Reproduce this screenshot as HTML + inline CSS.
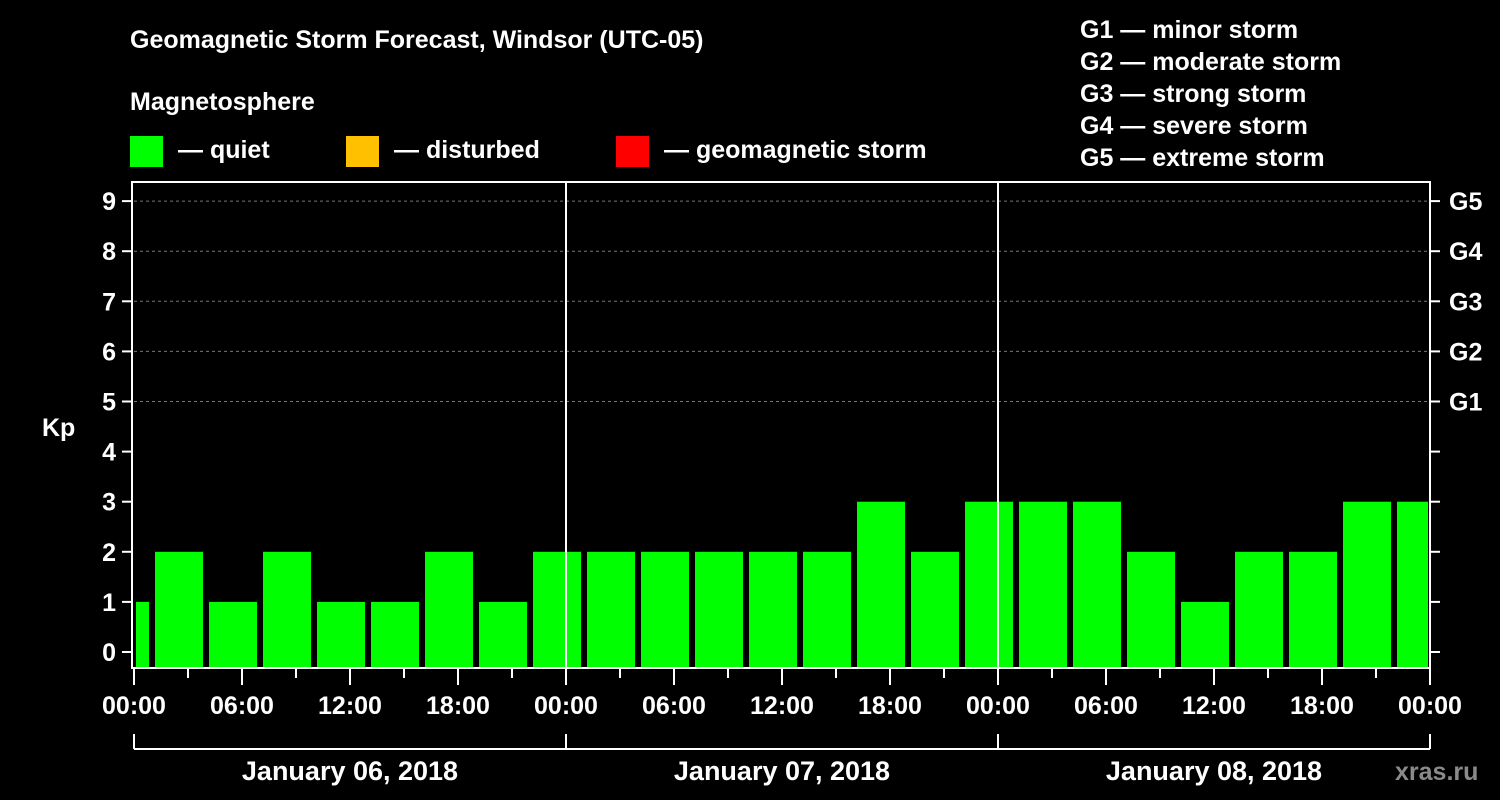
<!DOCTYPE html>
<html><head><meta charset="utf-8"><style>
html,body{margin:0;padding:0;background:#000;width:1500px;height:800px;overflow:hidden}
svg text{font-family:"Liberation Sans",Arial,sans-serif;font-weight:bold;fill:#fff}
</style></head><body>
<svg id="chart" width="1500" height="800" xmlns="http://www.w3.org/2000/svg">
<text x="130" y="48" font-size="25">Geomagnetic Storm Forecast, Windsor (UTC-05)</text>
<text x="130" y="110" font-size="25">Magnetosphere</text>
<rect x="130" y="136" width="33" height="31" fill="#00ff00"/>
<text x="178" y="158" font-size="25">— quiet</text>
<rect x="346" y="136" width="33" height="31" fill="#ffc000"/>
<text x="394" y="158" font-size="25">— disturbed</text>
<rect x="616" y="136" width="33" height="31" fill="#ff0000"/>
<text x="664" y="158" font-size="25">— geomagnetic storm</text>
<g font-size="25">
<text x="1080" y="38">G1 — minor storm</text>
<text x="1080" y="70">G2 — moderate storm</text>
<text x="1080" y="102">G3 — strong storm</text>
<text x="1080" y="134">G4 — severe storm</text>
<text x="1080" y="166">G5 — extreme storm</text>
</g>
<g id="plot"></g>
<text x="1395" y="780" font-size="25" fill="#888" style="fill:#8a8a8a">xras.ru</text>
</svg>
<script>
const kpValues = [1,2,1,2,1,1,2,1,2, 2,2,2,2,2,3,2,3, 3,3,2,1,2,2,3,3];
const barStartHours = [-2,1,4,7,10,13,16,19,22,25,28,31,34,37,40,43,46,49,52,55,58,61,64,67,70];
const kpTicks = [0,1,2,3,4,5,6,7,8,9];
const gLabels = ["G1","G2","G3","G4","G5"];
const gLevels = [5,6,7,8,9];
const hourTickLabels = ["00:00","06:00","12:00","18:00","00:00","06:00","12:00","18:00","00:00","06:00","12:00","18:00","00:00"];
const dayLabels = ["January 06, 2018","January 07, 2018","January 08, 2018"];

const NS="http://www.w3.org/2000/svg";
const g=document.getElementById('plot');
const X0=134, X1=1430, TOTAL=72, YTOP=182, YBOT=668;
const x=h=>X0+(h/TOTAL)*(X1-X0);
const y=v=>652-v*50.1;
function el(t,a){const e=document.createElementNS(NS,t);for(const k in a)e.setAttribute(k,a[k]);g.appendChild(e);return e;}

// bars
barStartHours.forEach((h,i)=>{
  let a=Math.max(x(h)+3,X0+2), b=Math.min(x(h+3)-3,X1-2);
  const v=kpValues[i];
  const c=v>=5?'#ff0000':(v>=4?'#ffc000':'#00ff00');
  const r=el('rect',{x:a,y:y(v),width:b-a,height:YBOT-y(v),fill:c});
  
  
});
// grid
gLevels.forEach(v=>{
  const l=el('line',{x1:X0,x2:X1,y1:y(v),y2:y(v),stroke:'#777','stroke-dasharray':'3,3','stroke-width':1});
  
  
});
// day dividers
[24,48].forEach(h=>{
  const l=el('line',{x1:x(h),x2:x(h),y1:YTOP,y2:YBOT,stroke:'#fff','stroke-width':2});
  
  
});
// frame
const fr=el('rect',{x:132,y:YTOP,width:X1-132,height:YBOT-YTOP,fill:'none',stroke:'#fff','stroke-width':2});


// y ticks
kpTicks.forEach(v=>{
  el('line',{x1:122,x2:132,y1:y(v),y2:y(v),stroke:'#fff','stroke-width':2});
  el('line',{x1:X1,x2:X1+10,y1:y(v),y2:y(v),stroke:'#fff','stroke-width':2});
  const t=el('text',{x:116,y:y(v)+9,'font-size':25,'text-anchor':'end'});t.textContent=v;
  
  
});
gLabels.forEach((s,i)=>{
  const t=el('text',{x:1449,y:y(gLevels[i])+9,'font-size':25});t.textContent=s;
  
  
});
const yt=el('text',{x:42,y:436,'font-size':25});yt.textContent='Kp';


// x ticks
for(let h=0;h<=TOTAL;h+=3){
  const major=h%6===0;
  el('line',{x1:x(h),x2:x(h),y1:YBOT,y2:major?685:678,stroke:'#fff','stroke-width':2});
}
hourTickLabels.forEach((s,i)=>{
  const t=el('text',{x:x(i*6),y:714,'font-size':25,'text-anchor':'middle'});t.textContent=s;
  
  
});
// day bracket
el('line',{x1:X0,x2:X1,y1:749,y2:749,stroke:'#fff','stroke-width':2});
[0,24,48,72].forEach(h=>el('line',{x1:x(h),x2:x(h),y1:734,y2:749,stroke:'#fff','stroke-width':2}));
dayLabels.forEach((s,i)=>{
  const t=el('text',{x:x(i*24+12),y:780,'font-size':27,'text-anchor':'middle'});t.textContent=s;
  
  
});
</script>
</body></html>
